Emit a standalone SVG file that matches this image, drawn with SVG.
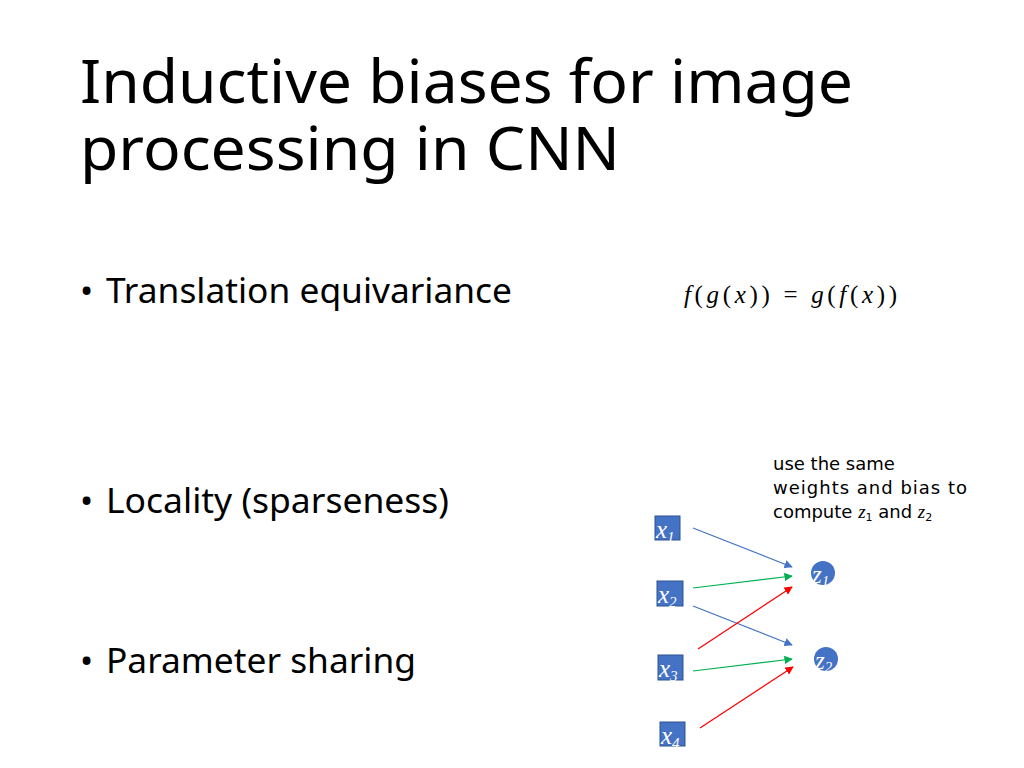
<svg xmlns="http://www.w3.org/2000/svg" width="1024" height="768" viewBox="0 0 1024 768">
<style>
.t{font-family:"Noto Sans","Open Sans",sans-serif;fill:#000}
.m{font-family:"Liberation Serif","DejaVu Serif",serif;font-style:italic}
.box{fill:#4472c4;stroke:#2f528f;stroke-width:1}
.lbl{font-family:"Liberation Serif",serif;font-style:italic;fill:#fff;font-size:25px}
.sub{font-size:15px}
</style>
<defs>
<marker id="ab" viewBox="0 0 10 10" refX="9" refY="5" markerWidth="7" markerHeight="7" orient="auto"><path d="M0,0L10,5L0,10z" fill="#4472c4"/></marker>
<marker id="ag" viewBox="0 0 10 10" refX="9" refY="5" markerWidth="7" markerHeight="7" orient="auto"><path d="M0,0L10,5L0,10z" fill="#00b050"/></marker>
<marker id="ar" viewBox="0 0 10 10" refX="9" refY="5" markerWidth="7" markerHeight="7" orient="auto"><path d="M0,0L10,5L0,10z" fill="#ff0000"/></marker>
</defs>
<rect width="1024" height="768" fill="#fff"/>
<text class="t" x="80" y="103" font-size="60" textLength="773" lengthAdjust="spacingAndGlyphs">Inductive biases for image</text>
<text class="t" x="80" y="170" font-size="60" textLength="540" lengthAdjust="spacingAndGlyphs">processing in CNN</text>
<text class="t" x="80" y="303" font-size="35">•</text>
<text class="t" x="106" y="303" font-size="35" textLength="406" lengthAdjust="spacingAndGlyphs">Translation equivariance</text>
<text class="t" x="80" y="513" font-size="35">•</text>
<text class="t" x="106" y="513" font-size="35" textLength="343" lengthAdjust="spacingAndGlyphs">Locality (sparseness)</text>
<text class="t" x="80" y="673" font-size="35">•</text>
<text class="t" x="106" y="673" font-size="35" textLength="310" lengthAdjust="spacingAndGlyphs">Parameter sharing</text>
<text x="684" y="303" font-size="25" font-family="Liberation Serif,serif" textLength="213"><tspan class="m">f</tspan>(<tspan class="m">g</tspan>(<tspan class="m">x</tspan>)) = <tspan class="m">g</tspan>(<tspan class="m">f</tspan>(<tspan class="m">x</tspan>))</text>
<g font-family="DejaVu Sans,sans-serif" font-size="18" fill="#000">
<text x="773" y="470">use the same</text>
<text x="773" y="494" textLength="194">weights and bias to</text>
<text x="773" y="518">compute <tspan class="m" font-family="Liberation Serif,serif" font-size="19">z</tspan><tspan font-size="11" dy="3">1</tspan><tspan dy="-3"> and </tspan><tspan class="m" font-family="Liberation Serif,serif" font-size="19">z</tspan><tspan font-size="11" dy="3">2</tspan></text>
</g>
<g id="x1"><rect class="box" x="655" y="516" width="25" height="24"/><text class="lbl" x="656" y="538">x<tspan class="sub" dy="4">1</tspan></text></g>
<g id="x2"><rect class="box" x="657" y="581" width="26" height="25"/><text class="lbl" x="658" y="603">x<tspan class="sub" dy="4">2</tspan></text></g>
<g id="x3"><rect class="box" x="658" y="655" width="25" height="25"/><text class="lbl" x="659" y="677">x<tspan class="sub" dy="4">3</tspan></text></g>
<g id="x4"><rect class="box" x="660" y="722" width="25" height="24"/><text class="lbl" x="661" y="744">x<tspan class="sub" dy="4">4</tspan></text></g>
<g id="z1"><circle cx="823" cy="573" r="12" fill="#4472c4"/><text class="lbl" x="812" y="583" font-size="23">z<tspan class="sub" dy="3">1</tspan></text></g>
<g id="z2"><circle cx="826" cy="659" r="12" fill="#4472c4"/><text class="lbl" x="815" y="669" font-size="23">z<tspan class="sub" dy="3">2</tspan></text></g>
<g id="connectors" stroke-width="1.2" fill="none">
<line x1="693" y1="528" x2="792" y2="567" stroke="#4472c4" marker-end="url(#ab)"/>
<line x1="693" y1="588" x2="792" y2="576" stroke="#00b050" marker-end="url(#ag)"/>
<line x1="693" y1="606" x2="792" y2="645" stroke="#4472c4" marker-end="url(#ab)"/>
<line x1="698" y1="649" x2="792" y2="587" stroke="#ff0000" marker-end="url(#ar)"/>
<line x1="693" y1="671" x2="792" y2="659" stroke="#00b050" marker-end="url(#ag)"/>
<line x1="700" y1="728" x2="793" y2="667" stroke="#ff0000" marker-end="url(#ar)"/>
</g>
</svg>
